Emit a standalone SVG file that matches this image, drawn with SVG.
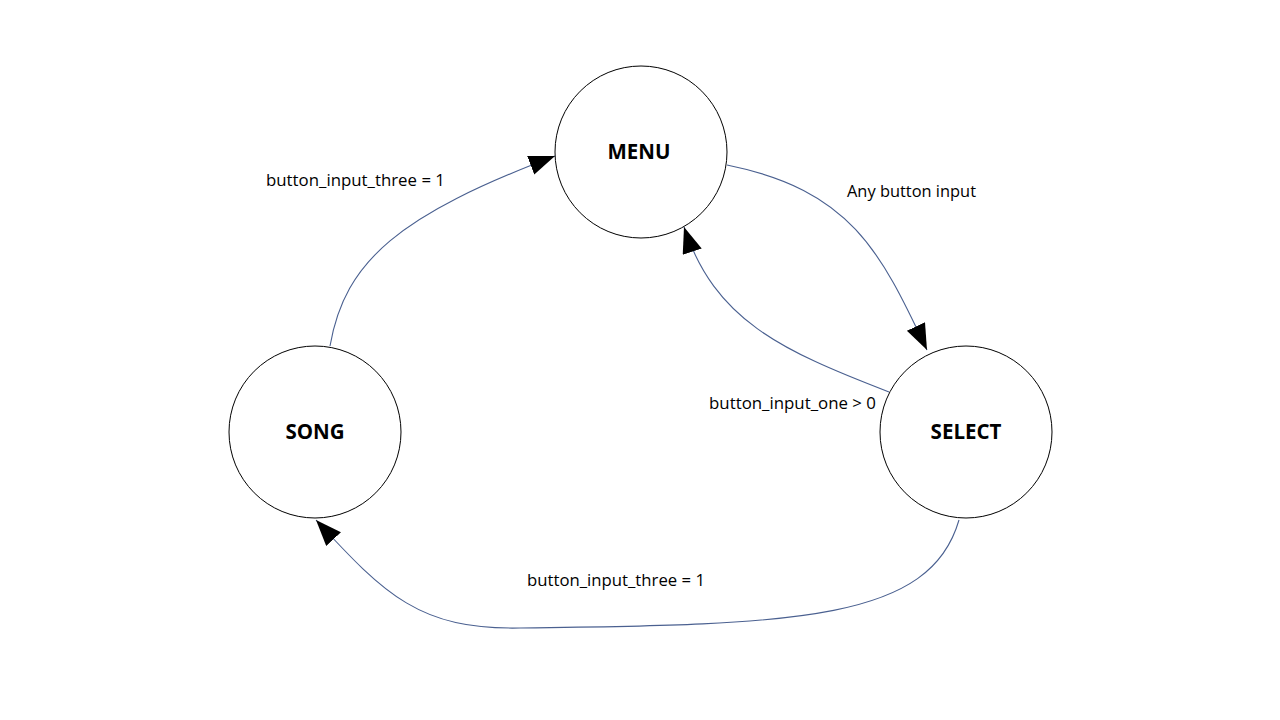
<svg xmlns="http://www.w3.org/2000/svg" width="1280" height="720" viewBox="0 0 1280 720">
<style>
.node{fill:#fff;stroke:#000;stroke-width:1}
.nl{font-family:"Open Sans","Liberation Sans",sans-serif;font-weight:bold;font-size:20.5px;text-anchor:middle;fill:#000}
.el{font-family:"Open Sans","Liberation Sans",sans-serif;font-size:15.5px;fill:#000}
.edge{fill:none;stroke:#4a6090;stroke-width:1.1}
</style>
<defs>
<marker id="arr" markerUnits="userSpaceOnUse" markerWidth="28" markerHeight="22" refX="26" refY="10" orient="auto">
<path d="M0,0 L26,10 L0,20 Z" fill="#000"/>
</marker>
</defs>
<rect width="1280" height="720" fill="#fff"/>
<g id="connectors">
<path class="edge" d="M330,346 C345,260 400,215 555,156" marker-end="url(#arr)"/>
<path class="edge" d="M727,165 C850,190 880,250 927,350" marker-end="url(#arr)"/>
<path class="edge" d="M889,392 C780,350 715,320 684,227" marker-end="url(#arr)"/>
<path class="edge" d="M959,520 C930,620 800,625 520,628 C420,630 385,595 316,520" marker-end="url(#arr)"/>
</g>
<g id="menu"><circle class="node" cx="641" cy="152" r="86"/><text class="nl" x="639" y="159">MENU</text></g>
<g id="song"><circle class="node" cx="315" cy="432" r="86"/><text class="nl" x="315" y="439">SONG</text></g>
<g id="select"><circle class="node" cx="966" cy="432" r="86"/><text class="nl" x="966" y="439">SELECT</text></g>
<g id="labels">
<text class="el" x="266" y="186" textLength="179" lengthAdjust="spacingAndGlyphs">button_input_three = 1</text>
<text class="el" x="847" y="197" textLength="129" lengthAdjust="spacingAndGlyphs">Any button input</text>
<text class="el" x="709" y="409" textLength="167" lengthAdjust="spacingAndGlyphs">button_input_one &gt; 0</text>
<text class="el" x="527" y="586" textLength="178" lengthAdjust="spacingAndGlyphs">button_input_three = 1</text>
</g>
</svg>
